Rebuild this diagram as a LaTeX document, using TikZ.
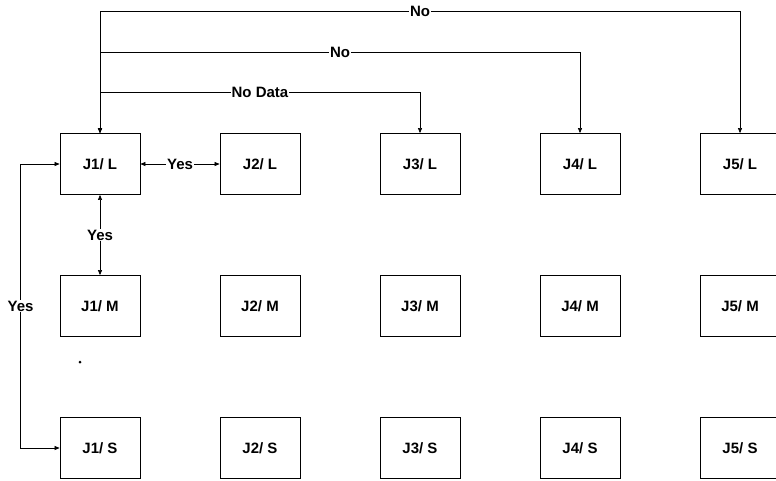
\documentclass[tikz,border=0pt]{standalone}
\usepackage{fontspec}
\setmainfont{Liberation Sans}[BoldFont={Liberation Sans Bold}]
\usetikzlibrary{arrows.meta}

\tikzset{
  box/.style={draw,line width=0.8pt,minimum width=80pt,minimum height=61pt,inner sep=0pt,font=\bfseries\fontsize{15}{17}\selectfont},
  lbl/.style={fill=white,inner sep=1pt,font=\bfseries\fontsize{15}{17}\selectfont},
  link/.style={line width=0.6pt,{Triangle[length=5pt,width=4pt]}-{Triangle[length=5pt,width=4pt]}},
  one/.style={line width=0.6pt,-{Triangle[length=5pt,width=4pt]}}
}

\begin{document}
\begin{tikzpicture}[x=1pt,y=-1pt]
		\useasboundingbox (0,0) rectangle (776,480);

		% Kaesten
		\foreach \i/\x in {1/100,2/260,3/420,4/580,5/740}{
			\node[box] (j\i l) at (\x,164) {J\i/ L};
			\node[box] (j\i m) at (\x,306) {J\i/ M};
			\node[box] (j\i s) at (\x,448) {J\i/ S};
		}

		% Verbindungen oben
		\draw[link] (j1l.north) -- ++(0,-122) -| node[lbl,pos=0.25]{No} (j5l.north);
		\draw[link] (j1l.north) -- ++(0,-81) -| node[lbl,pos=0.25]{No} (j4l.north);
		\draw[link] (j1l.north) -- ++(0,-41) -| node[lbl,pos=0.25]{No Data} (j3l.north);

		% Ja
		\draw[link] (j1l) -- node[lbl]{Yes} (j2l);
		\draw[link] (j1l) -- node[lbl]{Yes} (j1m);
		\draw[link] (j1l.west) -- ++(-39,0) |- node[lbl,pos=0.25]{Yes} (j1s.west);

		% Punkt
		\fill (80,362) circle (1.5pt);
	\end{tikzpicture}
\end{document}
